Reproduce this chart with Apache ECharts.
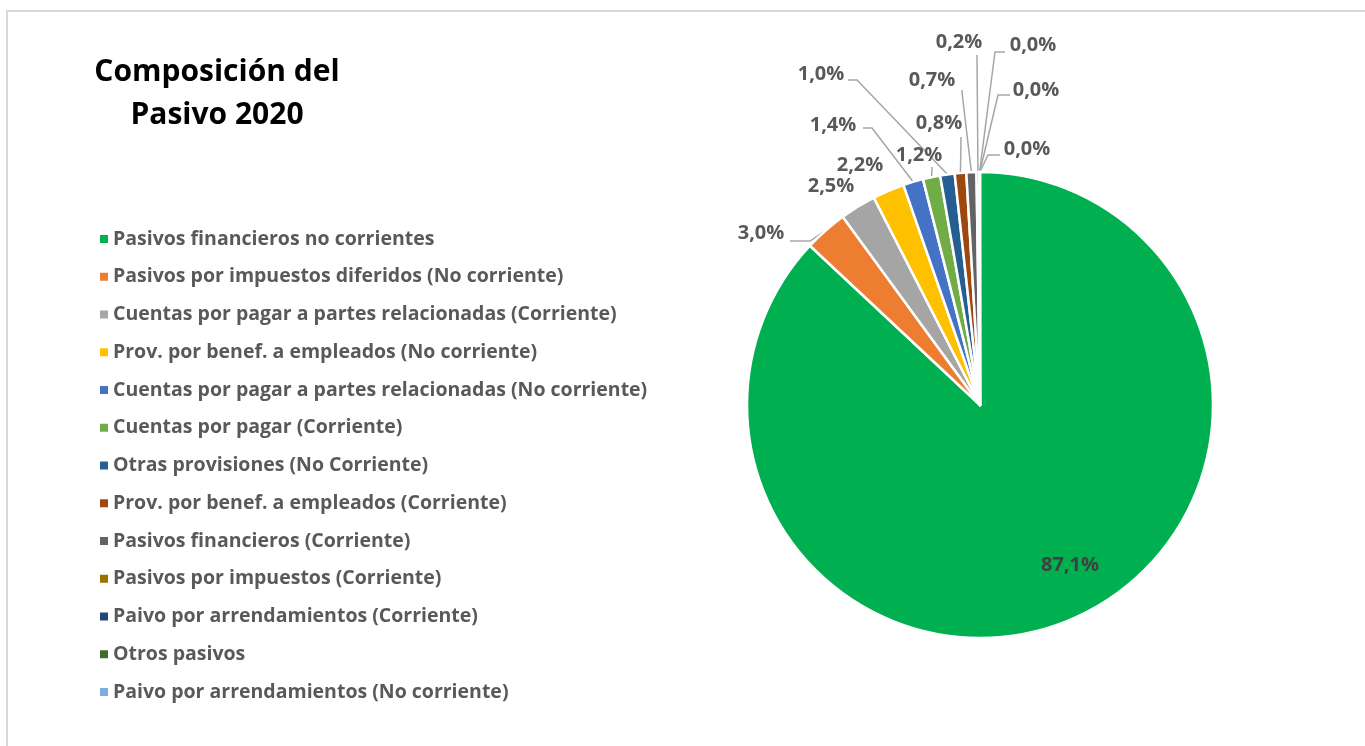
<!DOCTYPE html>
<html><head><meta charset="utf-8">
<script src="https://cdn.jsdelivr.net/npm/echarts@6/dist/echarts.min.js"></script>
<style>html,body{margin:0;padding:0;background:#fff}#c{width:1365px;height:746px}</style>
</head><body><div id="c"></div>
<script>
const titleText = 'Composición del\nPasivo 2020';
const categories = [
  'Pasivos financieros no corrientes',
  'Pasivos por impuestos diferidos (No corriente)',
  'Cuentas por pagar a partes relacionadas (Corriente)',
  'Prov. por benef. a empleados (No corriente)',
  'Cuentas por pagar a partes relacionadas (No corriente)',
  'Cuentas por pagar (Corriente)',
  'Otras provisiones (No Corriente)',
  'Prov. por benef. a empleados (Corriente)',
  'Pasivos financieros (Corriente)',
  'Pasivos por impuestos (Corriente)',
  'Paivo por arrendamientos (Corriente)',
  'Otros pasivos',
  'Paivo por arrendamientos (No corriente)'
];
const values = [87.1, 3.0, 2.5, 2.2, 1.4, 1.2, 1.0, 0.8, 0.7, 0.2, 0.02, 0.01, 0.01];
const colors = ['#00B050','#ED7D31','#A5A5A5','#FFC000','#4472C4','#70AD47','#255E91','#9E480E','#636363','#997300','#264478','#43682B','#7CAFDD'];

// label centres (text layout only)
const labelPos = [[1070,565],[761,233],[831,186],[860,165],[833,125],[919,155],[821,74],[939,123],[932,80],[959,42],[1033,45],[1036,90],[1027,149]];
// leader line bend/end points (null = no line)
const lineTail = [null, [[810,241],[790,241]], null, null, [[872,128],[863,128]], [[932,170],[932,167]],
  [[857,80],[848,80]], [[961,140],[961,137]], [[962,92],[962,90]], [[977,58],[977,55]],
  [[995,52],[1005,52]], [[998,95],[1010,95]], [[988,155],[1000,155]]];

const fmt = v => v.toFixed(1).replace('.', ',') + '%';

const chart = echarts.init(document.getElementById('c'), null, {renderer:'canvas'});
chart.setOption({
  backgroundColor: '#ffffff',
  animation: false,
  color: colors,
  graphic: [{
    type: 'rect', z: -10, silent: true,
    shape: {x: 7, y: 11, width: 1400, height: 800},
    style: {fill: 'none', stroke: '#d9d9d9', lineWidth: 2}
  }],
  title: {
    text: titleText,
    left: 212, top: 46, textAlign: 'center',
    textStyle: {fontFamily: 'Open Sans', fontSize: 30, fontWeight: 'bold', color: '#000', lineHeight: 43}
  },
  legend: {
    orient: 'vertical', left: 95, top: 224,
    itemWidth: 8, itemHeight: 8, itemGap: 17.75,
    icon: 'rect',
    itemStyle: {borderWidth: 0},
    textStyle: {fontFamily: 'Open Sans', fontSize: 19.5, fontWeight: 'bold', color: '#595959', lineHeight: 20},
    data: categories
  },
  series: [{
    type: 'pie',
    center: [980, 405],
    radius: 233,
    startAngle: 90,
    clockwise: true,
    avoidLabelOverlap: false,
    itemStyle: {borderColor: '#ffffff', borderWidth: 2.5},
    label: {
      show: true, position: 'outside',
      fontFamily: 'Open Sans', fontSize: 20, fontWeight: 'bold', color: '#595959',
      formatter: p => fmt(p.value)
    },
    labelLine: {show: true, lineStyle: {color: '#A6A6A6', width: 1.5}},
    emphasis: {disabled: true},
    labelLayout: function (params) {
      const i = params.dataIndex;
      const out = {x: labelPos[i][0], y: labelPos[i][1], align: 'center', verticalAlign: 'middle', hideOverlap: false};
      if (lineTail[i] && params.labelLinePoints) {
        const p0 = params.labelLinePoints[0];
        out.labelLinePoints = [[p0[0], p0[1]], lineTail[i][0], lineTail[i][1]];
      }
      return out;
    },
    data: categories.map((n, i) => ({
      name: n, value: values[i],
      label: i === 0 ? {color: '#404040'} : undefined,
      labelLine: {show: lineTail[i] !== null}
    }))
  }]
});
</script></body></html>
